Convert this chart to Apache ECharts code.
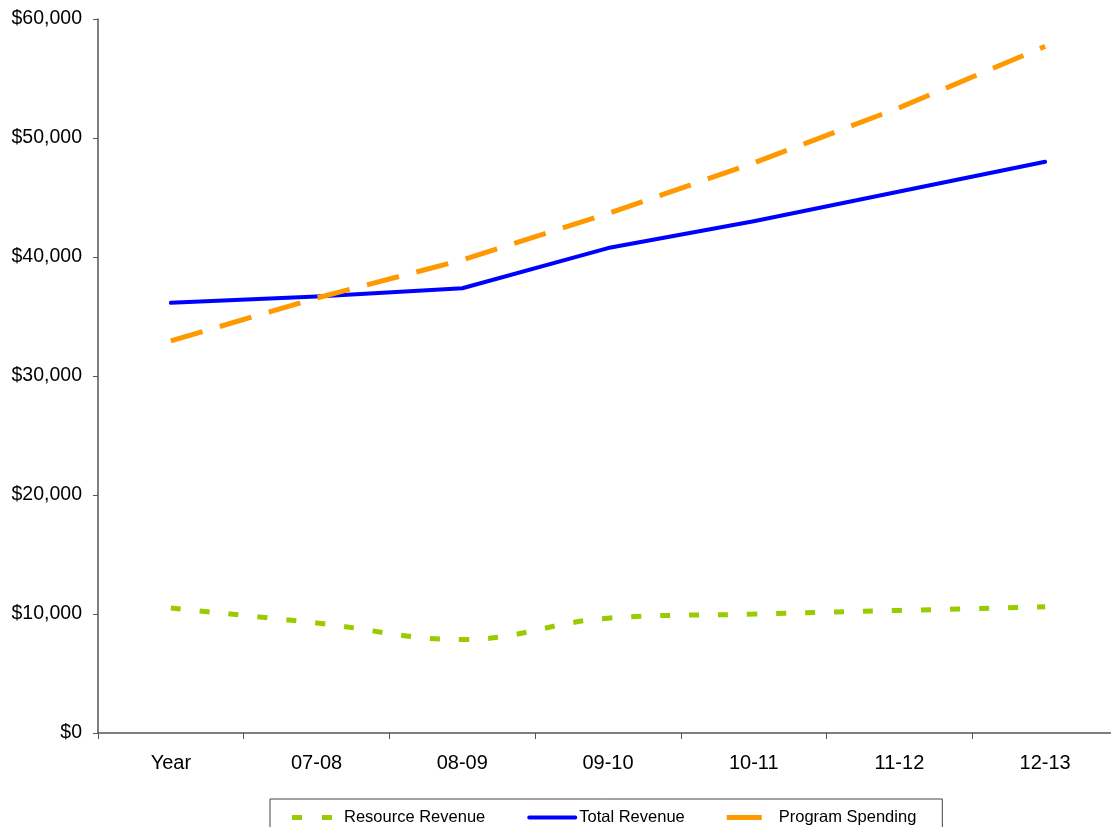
<!DOCTYPE html>
<html>
<head>
<meta charset="utf-8">
<script src="https://cdn.jsdelivr.net/npm/echarts@6/dist/echarts.min.js"></script>
<style>
  html, body { margin: 0; padding: 0; background: #fff; overflow: hidden; width: 1111px; height: 827px; }
  /* the plot runs past the right edge of the page, so the canvas is a little wider */
  #chart { width: 1130px; height: 827px; }
</style>
</head>
<body>
<div id="chart"></div>
<script>
// Fiscal years on the category axis
const years = ['Year', '07-08', '08-09', '09-10', '10-11', '11-12', '12-13'];

// Amounts in dollars
const resourceRevenue = [10500, 9250, 7850, 9650, 9990, 10300, 10600];
const totalRevenue    = [36150, 36680, 37370, 40750, 43000, 45500, 48000];
const programSpending = [32950, 36550, 39750, 43650, 47900, 52550, 57700];

const yTicks = { min: 0, max: 60000, interval: 10000 };

const font = 'Liberation Sans, Arial, sans-serif';
const axisGrey = '#555555';

// Legend keys: a 50x16 box (tiny corner squares fix the bounds) holding the line sample
const corners = 'M0,0h0.01v0.01h-0.01z M50,16h-0.01v-0.01h0.01z ';
const dottedKey = 'path://' + corners + 'M0,5.5h10v5h-10z M30,5.5h10v5h-10z';
const solidKey  = 'path://' + corners + 'M1,6h48a2,2 0 0 1 0,4h-48a2,2 0 0 1 0,-4z';
const dashedKey = 'path://' + corners + 'M0,5.5h35v5h-35z';

const chart = echarts.init(document.getElementById('chart'), null, { renderer: 'canvas' });

chart.setOption({
  backgroundColor: '#ffffff',
  animation: false,
  grid: { left: 98, top: 19, right: 12, bottom: 94, containLabel: false },
  legend: {
    left: 270,
    top: 799,
    orient: 'horizontal',
    itemWidth: 50,
    itemHeight: 16,
    itemGap: 42,
    symbolKeepAspect: false,
    padding: [10, 26, 30, 22],
    borderColor: '#444',
    borderWidth: 1,
    backgroundColor: '#fff',
    textStyle: { fontFamily: font, fontSize: 16.5, color: '#000', padding: [0, 0, 0, -3] },
    data: [
      { name: 'Resource Revenue', icon: dottedKey, itemStyle: { color: '#99CC00' } },
      { name: 'Total Revenue', icon: solidKey, itemStyle: { color: '#0000FF' } },
      { name: 'Program Spending', icon: dashedKey, itemStyle: { color: '#FF9900' } }
    ]
  },
  xAxis: {
    type: 'category',
    data: years,
    boundaryGap: true,
    axisLine: { lineStyle: { color: axisGrey, width: 1.5 } },
    axisTick: { show: true, length: 6, inside: false, lineStyle: { color: axisGrey, width: 1 } },
    axisLabel: { fontFamily: font, fontSize: 20, color: '#000', margin: 20 },
    splitLine: { show: false }
  },
  yAxis: {
    type: 'value',
    min: yTicks.min,
    max: yTicks.max,
    interval: yTicks.interval,
    axisLine: { show: true, lineStyle: { color: axisGrey, width: 1.5 } },
    axisTick: { show: true, length: 5, inside: false, lineStyle: { color: axisGrey, width: 1 } },
    axisLabel: {
      fontFamily: font, fontSize: 19.5, color: '#000', margin: 16,
      formatter: v => '$' + v.toLocaleString('en-US')
    },
    splitLine: { show: false }
  },
  series: [
    {
      name: 'Resource Revenue',
      type: 'line',
      data: resourceRevenue,
      smooth: 0.4,
      symbol: 'none',
      color: '#99CC00',
      lineStyle: { color: '#99CC00', width: 5, type: [10, 19], cap: 'butt' }
    },
    {
      name: 'Total Revenue',
      type: 'line',
      data: totalRevenue,
      smooth: false,
      symbol: 'none',
      color: '#0000FF',
      lineStyle: { color: '#0000FF', width: 4, cap: 'round', join: 'round' }
    },
    {
      name: 'Program Spending',
      type: 'line',
      data: programSpending,
      smooth: false,
      symbol: 'none',
      color: '#FF9900',
      lineStyle: { color: '#FF9900', width: 5, type: [33, 18], cap: 'butt' }
    }
  ]
});
</script>
</body>
</html>
